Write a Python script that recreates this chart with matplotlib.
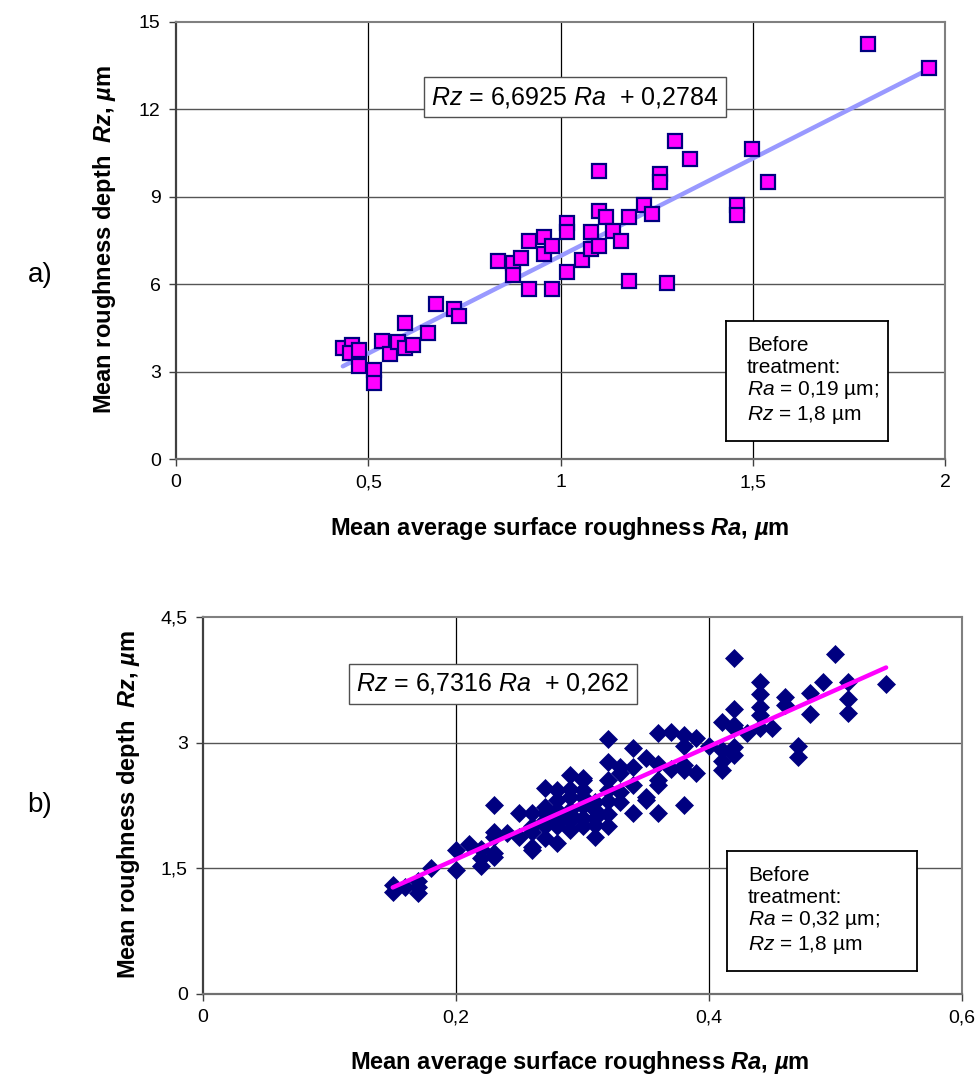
import matplotlib
matplotlib.use("Agg")
import matplotlib.pyplot as plt
import numpy as np

plt.rcParams['font.family'] = ['Liberation Sans', 'DejaVu Sans']
plt.rcParams['mathtext.fontset'] = 'custom'
plt.rcParams['mathtext.rm'] = 'Liberation Sans'
plt.rcParams['mathtext.it'] = 'Liberation Sans:italic'
plt.rcParams['mathtext.bf'] = 'Liberation Sans:bold'
try:
    plt.rcParams['mathtext.bfit'] = 'Liberation Sans:italic:bold'
except Exception:
    pass

# ---------------- data (a) ----------------
ra_a = [0.434, 0.458, 0.453, 0.476, 0.476, 0.515, 0.515, 0.536, 0.557, 0.577,
        0.596, 0.596, 0.616, 0.655, 0.676, 0.723, 0.736,
        0.837, 0.877, 0.877, 0.897, 0.918, 0.918, 0.957, 0.957, 0.978, 0.978,
        1.017, 1.017, 1.017, 1.056, 1.079, 1.079, 1.100, 1.100, 1.118, 1.100,
        1.137, 1.157, 1.178, 1.178, 1.217, 1.238, 1.259, 1.259, 1.277, 1.298,
        1.337, 1.459, 1.459, 1.498, 1.540, 1.800, 1.958]
rz_a = [3.81, 3.91, 3.64, 3.74, 3.19, 3.06, 2.61, 4.05, 3.60, 4.02,
        4.67, 3.81, 3.91, 4.33, 5.32, 5.15, 4.91,
        6.80, 6.73, 6.32, 6.90, 7.48, 5.84, 7.62, 7.04, 7.31, 5.84,
        8.10, 7.79, 6.42, 6.83, 7.79, 7.21, 9.89, 8.51, 8.31, 7.31,
        7.83, 7.48, 8.31, 6.11, 8.72, 8.41, 9.78, 9.51, 6.04, 10.92,
        10.30, 8.72, 8.38, 10.64, 9.51, 14.25, 13.42]
slope_a, icpt_a = 6.6925, 0.2784

# ---------------- data (b) ----------------
ra_b = [0.15, 0.15, 0.16, 0.17, 0.17, 0.17, 0.18, 0.20, 0.20, 0.21,
        0.22, 0.22, 0.22, 0.23, 0.23, 0.23, 0.23, 0.23, 0.24, 0.25, 0.25,
        0.26, 0.26, 0.26, 0.26, 0.26,
        0.27, 0.27, 0.27, 0.27, 0.27, 0.27,
        0.28, 0.28, 0.28, 0.28, 0.28, 0.28, 0.28,
        0.29, 0.29, 0.29, 0.29, 0.29, 0.29, 0.29,
        0.30, 0.30, 0.30, 0.30, 0.30, 0.30, 0.30,
        0.31, 0.31, 0.31, 0.31, 0.31,
        0.32, 0.32, 0.32, 0.32, 0.32, 0.32, 0.32,
        0.33, 0.33, 0.33, 0.33,
        0.34, 0.34, 0.34, 0.34,
        0.35, 0.35, 0.35,
        0.36, 0.36, 0.36, 0.36, 0.36,
        0.37, 0.37,
        0.38, 0.38, 0.38, 0.38, 0.38,
        0.39, 0.39, 0.40,
        0.41, 0.41, 0.41, 0.41,
        0.42, 0.42, 0.42, 0.42, 0.42, 0.42,
        0.43, 0.44, 0.44, 0.44, 0.44, 0.44, 0.45, 0.46, 0.46,
        0.47, 0.47, 0.48, 0.48, 0.49, 0.50, 0.51, 0.51, 0.51, 0.54]
rz_b = [1.30, 1.22, 1.28, 1.28, 1.21, 1.35, 1.50, 1.72, 1.48, 1.79,
        1.73, 1.53, 1.62, 2.26, 1.93, 1.63, 1.87, 1.68, 1.92, 2.16, 1.87,
        2.16, 1.93, 1.75, 2.00, 1.72,
        2.46, 2.23, 2.08, 1.86, 2.00, 2.16,
        2.43, 2.31, 2.00, 1.80, 2.04, 2.20, 2.10,
        2.61, 2.35, 2.06, 1.96, 2.45, 2.20, 2.15,
        2.55, 2.35, 2.00, 2.58, 2.25, 2.43, 2.10,
        2.29, 2.20, 2.02, 1.87, 2.10,
        3.04, 2.77, 2.55, 2.43, 2.00, 2.30, 2.15,
        2.71, 2.41, 2.29, 2.64,
        2.94, 2.71, 2.49, 2.16,
        2.82, 2.31, 2.35,
        3.11, 2.75, 2.49, 2.16, 2.55,
        3.13, 2.69,
        3.09, 2.96, 2.73, 2.67, 2.26,
        3.05, 2.64, 2.96,
        3.25, 2.91, 2.78, 2.67,
        4.01, 3.40, 3.21, 2.95, 2.85, 3.17,
        3.11, 3.73, 3.58, 3.43, 3.33, 3.18, 3.17, 3.54, 3.45,
        2.96, 2.83, 3.59, 3.34, 3.73, 4.06, 3.73, 3.52, 3.36, 3.70]
slope_b, icpt_b = 6.7316, 0.262

xt_a = [0, 0.5, 1, 1.5, 2]
xt_a_lbl = ["0", "0,5", "1", "1,5", "2"]
yt_a = [0, 3, 6, 9, 12, 15]
yt_a_lbl = ["0", "3", "6", "9", "12", "15"]
xt_b = [0, 0.2, 0.4, 0.6]
xt_b_lbl = ["0", "0,2", "0,4", "0,6"]
yt_b = [0, 1.5, 3, 4.5]
yt_b_lbl = ["0", "1,5", "3", "4,5"]

W, H = 978, 1076
fig = plt.figure(figsize=(W / 100, H / 100), dpi=100)

TICK_FS = 14
LABEL_FS = 17
BOX_FS = 15
EQ_FS = 18


def style_axes(ax, xt, xl, yt, yl):
    ax.set_xticks(xt)
    ax.set_xticklabels(xl, fontsize=TICK_FS)
    ax.set_yticks(yt)
    ax.set_yticklabels(yl, fontsize=TICK_FS)
    ax.set_xlim(xt[0], xt[-1])
    ax.set_ylim(yt[0], yt[-1])
    for x in xt[1:-1]:
        ax.axvline(x, color='black', lw=0.9, zorder=1)
    for y in yt[1:-1]:
        ax.axhline(y, color='#555555', lw=1.0, zorder=1)
    ax.spines['left'].set_color('#404040')
    ax.spines['left'].set_linewidth(1.6)
    ax.spines['bottom'].set_color('#707070')
    ax.spines['bottom'].set_linewidth(1.6)
    ax.spines['top'].set_color('#808080')
    ax.spines['top'].set_linewidth(1.5)
    ax.spines['right'].set_color('#808080')
    ax.spines['right'].set_linewidth(1.5)
    ax.tick_params(direction='out', length=5, width=1.0, color='#404040', pad=6)


def place_labels(ax, xl, yl, xpos, ypos):
    ax.set_xlabel(xl, fontsize=LABEL_FS, fontweight='bold')
    ax.set_ylabel(yl, fontsize=LABEL_FS, fontweight='bold')
    ax.xaxis.set_label_coords(*xpos)
    ax.yaxis.set_label_coords(*ypos)
    ax.xaxis.label.set_va('center')
    ax.yaxis.label.set_va('center')


ylab = r"Mean roughness depth  $\mathbfit{Rz}$, $\mathbfit{µ}$m"
xlab = r"Mean average surface roughness $\mathbfit{Ra}$, $\mathbfit{µ}$m"

# ---- (a) ----
ax1 = fig.add_axes([176 / W, 1 - 459 / H, (945 - 176) / W, (459 - 22) / H])
style_axes(ax1, xt_a, xt_a_lbl, yt_a, yt_a_lbl)
xa = np.array([min(ra_a), max(ra_a)])
ax1.plot(xa, slope_a * xa + icpt_a, color='#9999FF', lw=3.2, zorder=2,
         solid_capstyle='round')
ax1.plot(ra_a, rz_a, ls='none', marker='s', ms=10.5, mfc='#FF00FF', mec='#000080',
         mew=1.6, zorder=3)
ax1.text((575 - 176) / (945 - 176), 1 - (97 - 22) / (459 - 22),
         r"$\mathit{Rz}$ = 6,6925 $\mathit{Ra}$  + 0,2784", transform=ax1.transAxes,
         fontsize=EQ_FS, ha='center', va='center', zorder=5,
         bbox=dict(boxstyle='square,pad=0.3', fc='white', ec='#505050', lw=1.0))
place_labels(ax1, xlab, ylab, ((560 - 176) / 769, (459 - 528) / 437),
             ((105 - 176) / 769, (459 - 240) / 437))

# box a
bx = fig.add_axes([726 / W, 1 - 441 / H, (888 - 726) / W, (441 - 321) / H])
bx.set_xticks([]); bx.set_yticks([])
for s in bx.spines.values():
    s.set_color('black'); s.set_linewidth(1.3)
bx.text(0.13, 0.5, "Before\ntreatment:\n$\\mathit{Ra}$ = 0,19 µm;\n$\\mathit{Rz}$ = 1,8 µm",
        transform=bx.transAxes, fontsize=BOX_FS, va='center', ha='left', linespacing=1.15)

# ---- (b) ----
ax2 = fig.add_axes([203 / W, 1 - 994 / H, (962 - 203) / W, (994 - 617) / H])
style_axes(ax2, xt_b, xt_b_lbl, yt_b, yt_b_lbl)
xb = np.array([min(ra_b), max(ra_b)])
ax2.plot(ra_b, rz_b, ls='none', marker='D', ms=9, mfc='#000080', mec='#000080',
         mew=0.5, zorder=3)
ax2.plot(xb, slope_b * xb + icpt_b, color='#FF00FF', lw=3.2, zorder=4,
         solid_capstyle='round')
ax2.text((493 - 203) / (962 - 203), 1 - (684 - 617) / (994 - 617),
         r"$\mathit{Rz}$ = 6,7316 $\mathit{Ra}$  + 0,262", transform=ax2.transAxes,
         fontsize=EQ_FS, ha='center', va='center', zorder=5,
         bbox=dict(boxstyle='square,pad=0.3', fc='white', ec='#505050', lw=1.0))
place_labels(ax2, xlab, ylab, ((580 - 203) / 759, (994 - 1062) / 377),
             ((128 - 203) / 759, (994 - 805) / 377))

bx2 = fig.add_axes([727 / W, 1 - 971 / H, (917 - 727) / W, (971 - 851) / H])
bx2.set_xticks([]); bx2.set_yticks([])
for s in bx2.spines.values():
    s.set_color('black'); s.set_linewidth(1.3)
bx2.text(0.11, 0.5, "Before\ntreatment:\n$\\mathit{Ra}$ = 0,32 µm;\n$\\mathit{Rz}$ = 1,8 µm",
         transform=bx2.transAxes, fontsize=BOX_FS, va='center', ha='left', linespacing=1.15)

fig.text(40 / W, 1 - 275 / H, "a)", fontsize=20, ha='center', va='center')
fig.text(40 / W, 1 - 805 / H, "b)", fontsize=20, ha='center', va='center')

fig.savefig("out.png", dpi=100)
